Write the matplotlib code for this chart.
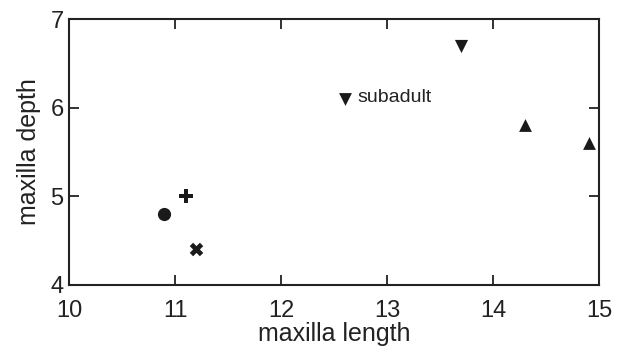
import matplotlib
matplotlib.use("Agg")
import matplotlib.pyplot as plt

plt.rcParams['font.family'] = ['Liberation Sans', 'DejaVu Sans']

# specimens: (length, depth, marker)
lengths = [10.9, 11.1, 11.2, 13.7, 14.3, 14.9]
depths = [4.8, 5.0, 4.4, 6.7, 5.8, 5.6]
markers = ['o', 'P', 'X', 'v', '^', '^']
sizes = [90, 110, 95, 90, 85, 85]

subadult_x, subadult_y = 12.6, 6.1
subadult_label = 'subadult'

fig = plt.figure(figsize=(6.28, 3.47), dpi=100)
ax = fig.add_axes([0.110, 0.179, 0.844, 0.766])

for x, y, m, s in zip(lengths, depths, markers, sizes):
    ax.scatter(x, y, marker=m, s=s, color='#1a1a1a', linewidths=0)

ax.scatter(subadult_x, subadult_y, marker='v', s=85, color='#1a1a1a', linewidths=0)
ax.text(subadult_x + 0.12, subadult_y + 0.02, subadult_label, fontsize=14, va='center', color='#222222')

ax.set_xlim(10, 15)
ax.set_ylim(4, 7)
ax.set_xticks([10, 11, 12, 13, 14, 15])
ax.set_yticks([4, 5, 6, 7])
ax.tick_params(direction='in', length=7, width=1.3, labelsize=17, colors='#222222',
               top=True, right=True)
ax.tick_params(axis='x', pad=11)
ax.tick_params(axis='y', pad=4)
for sp in ax.spines.values():
    sp.set_linewidth(1.5)
    sp.set_color('#222222')

ax.set_xlabel('maxilla length', fontsize=18, labelpad=0, color='#222222')
ax.set_ylabel('maxilla depth', fontsize=18, labelpad=7, color='#222222')

fig.savefig('out.png', dpi=100)
